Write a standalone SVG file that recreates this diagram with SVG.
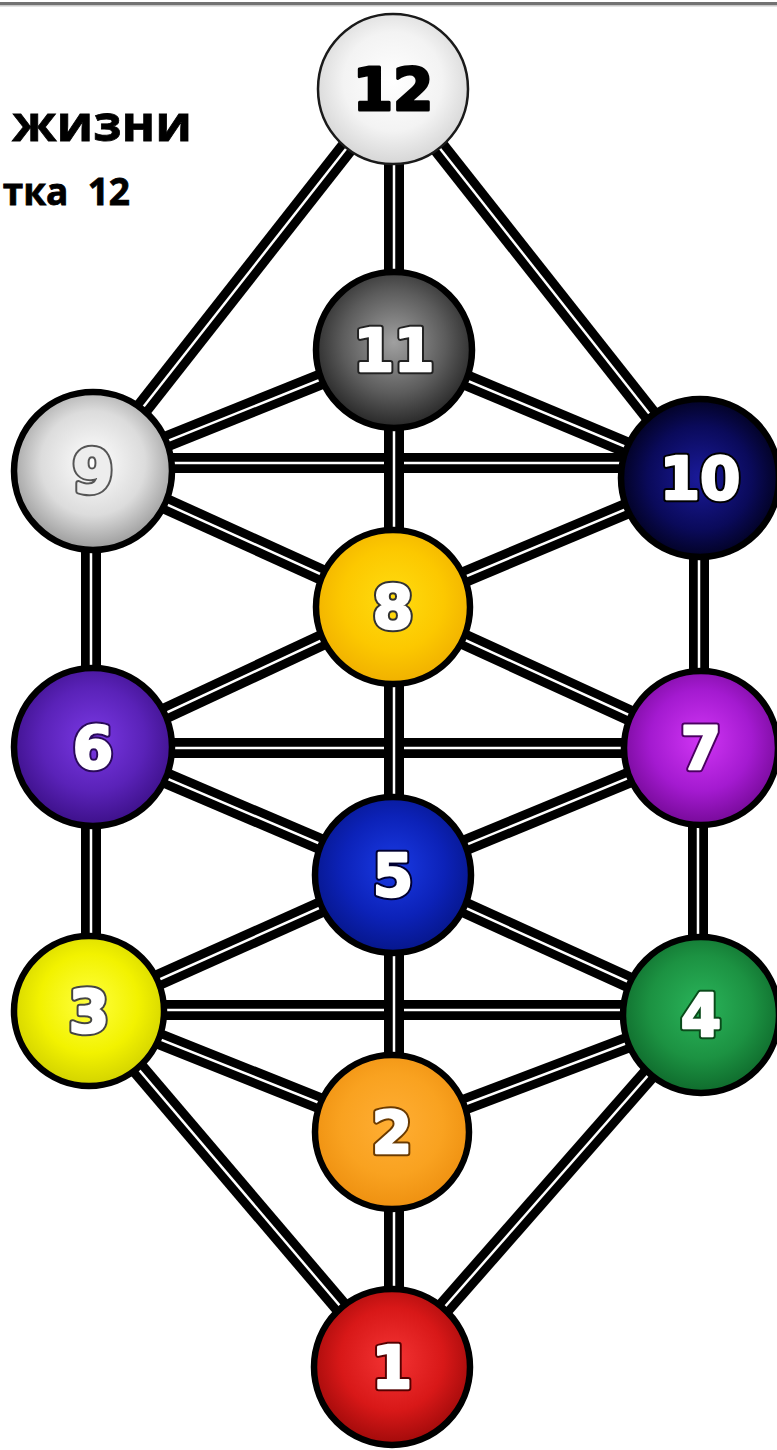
<svg xmlns="http://www.w3.org/2000/svg" width="777" height="1450" viewBox="0 0 777 1450">
<style>
.o{stroke:#000;stroke-width:20;stroke-linecap:butt}
.i{stroke:#fff;stroke-width:2.5;stroke-linecap:butt}
.c{stroke:#000;stroke-width:6.5}
.n{font-family:"DejaVu Sans",sans-serif;font-weight:bold;font-size:58px;text-anchor:middle;stroke-linejoin:round}
.b{stroke-width:6.5;fill:none}
.f{fill:#fff;stroke:#fff;stroke-width:2.5}
.t{font-family:"Open Sans","Liberation Sans",sans-serif;font-weight:bold;fill:#000;text-anchor:end;stroke:#000;stroke-width:0.8}
</style>
<defs>
<radialGradient id="g12" cx="50%" cy="45%" r="55%"><stop offset="0" stop-color="#ffffff"/><stop offset="0.6" stop-color="#f3f3f3"/><stop offset="1" stop-color="#d6d6d6"/></radialGradient>
<radialGradient id="g11" cx="50%" cy="45%" r="55%"><stop offset="0" stop-color="#a0a0a0"/><stop offset="0.6" stop-color="#5c5c5c"/><stop offset="1" stop-color="#262626"/></radialGradient>
<radialGradient id="g9" cx="50%" cy="45%" r="55%"><stop offset="0" stop-color="#ffffff"/><stop offset="0.6" stop-color="#dcdcdc"/><stop offset="1" stop-color="#9a9a9a"/></radialGradient>
<radialGradient id="g10" cx="50%" cy="50%" r="55%"><stop offset="0" stop-color="#1a1a9a"/><stop offset="0.6" stop-color="#0a0a5a"/><stop offset="1" stop-color="#000015"/></radialGradient>
<radialGradient id="g8" cx="50%" cy="45%" r="55%"><stop offset="0" stop-color="#ffdc10"/><stop offset="0.6" stop-color="#fcc800"/><stop offset="1" stop-color="#f0b000"/></radialGradient>
<radialGradient id="g6" cx="50%" cy="45%" r="55%"><stop offset="0" stop-color="#7a38e4"/><stop offset="0.6" stop-color="#5a22b8"/><stop offset="1" stop-color="#3c1088"/></radialGradient>
<radialGradient id="g7" cx="50%" cy="45%" r="55%"><stop offset="0" stop-color="#d035f4"/><stop offset="0.6" stop-color="#a41ad0"/><stop offset="1" stop-color="#760a98"/></radialGradient>
<radialGradient id="g5" cx="50%" cy="45%" r="55%"><stop offset="0" stop-color="#1a3ae4"/><stop offset="0.6" stop-color="#0c22b8"/><stop offset="1" stop-color="#06168a"/></radialGradient>
<radialGradient id="g3" cx="50%" cy="45%" r="55%"><stop offset="0" stop-color="#ffff40"/><stop offset="0.6" stop-color="#f2f200"/><stop offset="1" stop-color="#d2d200"/></radialGradient>
<radialGradient id="g4" cx="50%" cy="45%" r="55%"><stop offset="0" stop-color="#2ab45a"/><stop offset="0.6" stop-color="#1c9242"/><stop offset="1" stop-color="#0f6a2c"/></radialGradient>
<radialGradient id="g2" cx="50%" cy="45%" r="55%"><stop offset="0" stop-color="#ffae34"/><stop offset="0.6" stop-color="#f9a220"/><stop offset="1" stop-color="#ee9010"/></radialGradient>
<radialGradient id="g1" cx="50%" cy="45%" r="55%"><stop offset="0" stop-color="#f43434"/><stop offset="0.6" stop-color="#d81818"/><stop offset="1" stop-color="#a00a0a"/></radialGradient>
</defs>
<rect x="0" y="0" width="777" height="1450" fill="#fff"/>
<rect x="0" y="2" width="777" height="3" fill="#727272"/>
<rect x="0" y="5" width="777" height="1.5" fill="#c8c8c8"/>
<g id="title">
<text class="t" x="192" y="141" font-size="51">жизни</text>
<text class="t" x="130" y="205" font-size="37" xml:space="preserve">тка  12</text>
</g>
<g id="connectors">
<line class="o" x1="393" y1="89" x2="93" y2="471"/><line class="i" x1="393" y1="89" x2="93" y2="471"/>
<line class="o" x1="393" y1="89" x2="700" y2="478"/><line class="i" x1="393" y1="89" x2="700" y2="478"/>
<line class="o" x1="394" y1="350" x2="93" y2="471"/><line class="i" x1="394" y1="350" x2="93" y2="471"/>
<line class="o" x1="394" y1="350" x2="700" y2="478"/><line class="i" x1="394" y1="350" x2="700" y2="478"/>
<line class="o" x1="93" y1="471" x2="393" y2="607"/><line class="i" x1="93" y1="471" x2="393" y2="607"/>
<line class="o" x1="700" y1="478" x2="393" y2="607"/><line class="i" x1="700" y1="478" x2="393" y2="607"/>
<line class="o" x1="393" y1="607" x2="93" y2="747"/><line class="i" x1="393" y1="607" x2="93" y2="747"/>
<line class="o" x1="393" y1="607" x2="701" y2="748"/><line class="i" x1="393" y1="607" x2="701" y2="748"/>
<line class="o" x1="93" y1="747" x2="393" y2="875"/><line class="i" x1="93" y1="747" x2="393" y2="875"/>
<line class="o" x1="701" y1="748" x2="393" y2="875"/><line class="i" x1="701" y1="748" x2="393" y2="875"/>
<line class="o" x1="393" y1="875" x2="89" y2="1011"/><line class="i" x1="393" y1="875" x2="89" y2="1011"/>
<line class="o" x1="393" y1="875" x2="701" y2="1015"/><line class="i" x1="393" y1="875" x2="701" y2="1015"/>
<line class="o" x1="89" y1="1011" x2="392" y2="1132"/><line class="i" x1="89" y1="1011" x2="392" y2="1132"/>
<line class="o" x1="701" y1="1015" x2="392" y2="1132"/><line class="i" x1="701" y1="1015" x2="392" y2="1132"/>
<line class="o" x1="89" y1="1011" x2="392" y2="1367"/><line class="i" x1="89" y1="1011" x2="392" y2="1367"/>
<line class="o" x1="701" y1="1015" x2="392" y2="1367"/><line class="i" x1="701" y1="1015" x2="392" y2="1367"/>
<line class="o" x1="93" y1="463" x2="700" y2="463"/><line class="i" x1="93" y1="463" x2="700" y2="463"/>
<line class="o" x1="93" y1="748" x2="701" y2="748"/><line class="i" x1="93" y1="748" x2="701" y2="748"/>
<line class="o" x1="89" y1="1010" x2="701" y2="1010"/><line class="i" x1="89" y1="1010" x2="701" y2="1010"/>
<line class="o" x1="91" y1="471" x2="91" y2="747"/><line class="i" x1="91" y1="471" x2="91" y2="747"/>
<line class="o" x1="91" y1="747" x2="91" y2="1011"/><line class="i" x1="91" y1="747" x2="91" y2="1011"/>
<line class="o" x1="699" y1="478" x2="699" y2="748"/><line class="i" x1="699" y1="478" x2="699" y2="748"/>
<line class="o" x1="698" y1="748" x2="698" y2="1015"/><line class="i" x1="698" y1="748" x2="698" y2="1015"/>
<line class="o" x1="394" y1="89" x2="394" y2="350"/><line class="i" x1="394" y1="89" x2="394" y2="350"/>
<line class="o" x1="394" y1="350" x2="394" y2="607"/><line class="i" x1="394" y1="350" x2="394" y2="607"/>
<line class="o" x1="394" y1="607" x2="394" y2="875"/><line class="i" x1="394" y1="607" x2="394" y2="875"/>
<line class="o" x1="394" y1="875" x2="394" y2="1132"/><line class="i" x1="394" y1="875" x2="394" y2="1132"/>
<line class="o" x1="394" y1="1132" x2="394" y2="1367"/><line class="i" x1="394" y1="1132" x2="394" y2="1367"/>
</g>
<g id="node12"><circle cx="393" cy="89" r="75" fill="url(#g12)" stroke="#1a1a1a" stroke-width="2.5"/><text class="n" x="393" y="110" fill="#000" stroke="#000" stroke-width="3">12</text></g>
<g id="node11"><circle class="c" cx="394" cy="350" r="78" fill="url(#g11)"/><text class="n b" x="394" y="371" stroke="#222">11</text><text class="n f" x="394" y="371">11</text></g>
<g id="node9"><circle class="c" cx="93" cy="471" r="79" fill="url(#g9)"/><text class="n b" x="93" y="492" stroke="#555">9</text><text class="n f" x="93" y="492" style="fill:#ededed;stroke:#ededed">9</text></g>
<g id="node10"><circle class="c" cx="700" cy="478" r="79" fill="url(#g10)"/><text class="n b" x="700" y="499" stroke="#000">10</text><text class="n f" x="700" y="499">10</text></g>
<g id="node8"><circle class="c" cx="393" cy="607" r="77" fill="url(#g8)"/><text class="n b" x="393" y="628" stroke="#333">8</text><text class="n f" x="393" y="628">8</text></g>
<g id="node6"><circle class="c" cx="93" cy="747" r="79" fill="url(#g6)"/><text class="n b" x="93" y="768" stroke="#2a0a5a">6</text><text class="n f" x="93" y="768">6</text></g>
<g id="node7"><circle class="c" cx="701" cy="748" r="77" fill="url(#g7)"/><text class="n b" x="701" y="769" stroke="#4a0060">7</text><text class="n f" x="701" y="769">7</text></g>
<g id="node5"><circle class="c" cx="393" cy="875" r="78" fill="url(#g5)"/><text class="n b" x="393" y="896" stroke="#000030">5</text><text class="n f" x="393" y="896">5</text></g>
<g id="node3"><circle class="c" cx="89" cy="1011" r="75" fill="url(#g3)"/><text class="n b" x="89" y="1032" stroke="#444">3</text><text class="n f" x="89" y="1032">3</text></g>
<g id="node4"><circle class="c" cx="701" cy="1015" r="78" fill="url(#g4)"/><text class="n b" x="701" y="1036" stroke="#0a4a1a">4</text><text class="n f" x="701" y="1036">4</text></g>
<g id="node2"><circle class="c" cx="392" cy="1132" r="77" fill="url(#g2)"/><text class="n b" x="392" y="1153" stroke="#6a3a00">2</text><text class="n f" x="392" y="1153">2</text></g>
<g id="node1"><circle class="c" cx="392" cy="1367" r="78" fill="url(#g1)"/><text class="n b" x="392" y="1388" stroke="#500">1</text><text class="n f" x="392" y="1388">1</text></g>
</svg>
